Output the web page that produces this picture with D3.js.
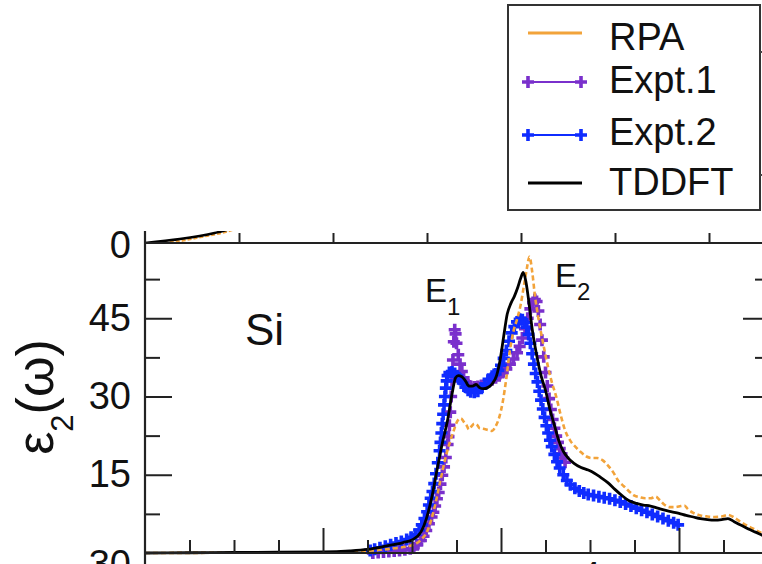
<!DOCTYPE html>
<html>
<head>
<meta charset="utf-8">
<script src="https://cdn.jsdelivr.net/npm/d3@7/dist/d3.min.js"></script>
<style>
  html, body { margin: 0; padding: 0; background: #fff; }
  svg { display: block; font-family: "Liberation Sans", Arial, sans-serif; }
</style>
</head>
<body>
<svg id="chart" width="762" height="564"></svg>
<script>
// ---- data: photon energy (eV) and eps2 values ----
const rpa = [
  [0.0,0],[1.0,0.05],[2.0,0.1],[2.5,0.4],[2.8,0.9],[3.0,1.5],[3.1,2.5],[3.18,4.5],[3.25,8.5],
  [3.32,14.0],[3.38,18.5],[3.43,21.5],[3.47,23.5],[3.51,25.3],[3.55,25.8],[3.58,25.2],[3.61,24.6],
  [3.64,23.7],[3.67,24.3],[3.70,24.8],[3.73,24.6],[3.76,23.9],[3.80,23.8],[3.85,23.6],[3.90,23.4],
  [3.94,24.3],[3.98,26.0],[4.02,29.0],[4.06,33.5],[4.10,38.8],[4.14,42.5],[4.18,44.8],[4.22,47.5],
  [4.26,51.5],[4.29,54.5],[4.32,56.8],[4.35,54.0],[4.38,49.5],[4.42,45.0],[4.47,40.5],[4.52,36.3],
  [4.57,32.8],[4.62,30.0],[4.67,26.5],[4.72,23.5],[4.78,21.5],[4.84,20.3],[4.90,19.3],[4.96,18.5],
  [5.02,18.2],[5.08,18.2],[5.14,17.8],[5.20,16.8],[5.26,15.5],[5.32,13.8],[5.38,12.8],[5.44,11.8],
  [5.50,11.0],[5.56,10.7],[5.62,10.5],[5.68,10.5],[5.74,10.8],[5.78,10.2],[5.84,9.2],[5.90,8.8],
  [5.96,8.8],[6.02,9.0],[6.06,9.1],[6.10,8.4],[6.16,7.7],[6.24,7.2],[6.32,7.0],[6.40,6.9],
  [6.48,7.0],[6.55,7.3],[6.60,7.0],[6.68,6.1],[6.76,5.3],[6.84,4.6],[6.92,3.9],[7.00,3.3]
];

const tddft = [
  [0.0,0],[0.5,0.05],[1.0,0.1],[1.5,0.15],[2.0,0.2],[2.3,0.4],[2.5,0.7],[2.7,1.3],[2.9,2.0],
  [3.0,2.5],[3.1,4.0],[3.16,6.5],[3.22,10.5],[3.28,15.8],[3.34,21.0],[3.40,25.5],[3.45,30.5],
  [3.49,33.6],[3.52,34.0],[3.56,33.8],[3.60,33.0],[3.64,32.0],[3.68,32.0],[3.72,32.3],[3.76,31.7],
  [3.80,31.5],[3.85,31.7],[3.90,32.4],[3.95,34.0],[3.99,37.0],[4.03,41.5],[4.07,45.8],[4.11,47.8],
  [4.15,49.2],[4.19,51.0],[4.22,52.6],[4.25,53.8],[4.28,52.0],[4.31,48.5],[4.35,43.0],[4.40,38.0],
  [4.45,34.0],[4.50,31.2],[4.55,27.5],[4.60,24.5],[4.65,21.5],[4.70,19.5],[4.75,18.3],[4.82,17.2],
  [4.90,16.4],[4.98,15.9],[5.05,15.3],[5.12,14.5],[5.20,13.5],[5.28,12.2],[5.36,11.0],[5.44,10.0],
  [5.52,9.5],[5.60,9.2],[5.68,9.0],[5.76,8.6],[5.84,8.2],[5.92,7.9],[6.00,7.6],[6.08,7.2],
  [6.16,6.9],[6.24,6.6],[6.32,6.4],[6.40,6.3],[6.48,6.4],[6.55,6.6],[6.62,6.0],[6.70,5.3],
  [6.78,4.6],[6.86,4.0],[6.95,3.3],[7.00,3.0]
];

const expt1 = [
  [2.56,0.0],[2.62,0.1],[2.68,0.2],[2.74,0.3],[2.80,0.4],[2.86,0.5],[2.92,0.6],[2.98,0.8],[3.02,1.0],
  [3.06,1.6],[3.10,2.4],[3.13,3.2],[3.16,4.3],[3.19,5.6],[3.22,6.9],[3.24,7.8],[3.26,9.0],[3.28,10.4],
  [3.30,11.6],[3.32,13.2],[3.34,14.9],[3.36,16.5],[3.38,18.3],[3.40,20.8],[3.41,22.3],[3.42,24.5],
  [3.43,27.0],[3.44,30.0],[3.45,33.0],[3.46,37.0],[3.47,40.5],[3.48,42.8],[3.49,42.0],[3.50,40.2],
  [3.52,38.0],[3.54,36.2],[3.56,34.8],[3.58,33.6],[3.60,32.8],[3.63,32.2],[3.66,31.9],[3.70,31.8],
  [3.74,31.9],[3.78,32.1],[3.82,32.4],[3.86,32.8],[3.90,33.2],[3.94,33.6],[3.98,34.0],[4.02,34.6],
  [4.06,35.3],[4.10,36.2],[4.14,37.2],[4.18,38.4],[4.21,39.6],[4.24,41.2],[4.27,43.0],[4.30,45.0],
  [4.33,46.8],[4.36,48.0],[4.38,48.6],[4.40,48.2],[4.42,46.4],[4.44,43.8],[4.46,40.8],[4.48,37.6],
  [4.50,34.6],[4.52,32.0],[4.54,29.6],[4.56,27.5],[4.58,25.6],[4.60,23.9],[4.62,22.4],[4.64,21.2],
  [4.66,20.0],[4.68,19.0],[4.70,18.2],[4.72,17.4]
];

const expt2 = [
  [2.53,0.5],[2.58,0.7],[2.64,1.0],[2.70,1.3],[2.76,1.6],[2.82,1.9],[2.88,2.2],[2.94,2.6],[2.99,3.0],
  [3.04,3.6],[3.08,4.4],[3.11,5.4],[3.14,6.6],[3.17,7.9],[3.19,9.2],[3.21,10.5],[3.23,11.8],[3.25,13.3],
  [3.27,15.2],[3.29,17.3],[3.31,19.6],[3.32,21.2],[3.33,23.0],[3.34,24.8],[3.35,26.6],[3.36,28.4],
  [3.37,30.0],[3.38,31.6],[3.39,33.0],[3.40,34.0],[3.42,34.6],[3.45,34.7],[3.48,34.4],[3.51,33.9],
  [3.54,33.3],[3.57,32.6],[3.60,31.8],[3.63,31.2],[3.66,30.9],[3.70,30.8],[3.74,31.0],[3.78,31.6],
  [3.82,32.4],[3.86,33.3],[3.90,33.9],[3.94,34.3],[3.97,35.0],[4.00,36.0],[4.03,37.3],[4.06,38.8],
  [4.09,40.6],[4.12,42.2],[4.15,43.4],[4.18,44.3],[4.21,44.8],[4.24,44.7],[4.27,44.2],[4.29,43.3],
  [4.31,41.9],[4.33,40.2],[4.35,38.2],[4.37,36.2],[4.39,34.4],[4.41,32.8],[4.43,31.0],[4.45,29.3],
  [4.47,27.6],[4.49,26.0],[4.51,24.4],[4.53,23.0],[4.55,21.6],[4.57,20.4],[4.60,18.9],[4.63,17.5],
  [4.66,16.3],[4.70,15.0],[4.74,13.9],[4.78,13.1],[4.83,12.4],[4.88,11.9],[4.93,11.5],[4.98,11.2],
  [5.04,11.0],[5.10,10.8],[5.16,10.6],[5.22,10.4],[5.28,10.1],[5.34,9.8],[5.40,9.4],[5.46,9.0],
  [5.52,8.6],[5.58,8.2],[5.64,7.8],[5.70,7.4],[5.76,7.0],[5.82,6.6],[5.88,6.2],[5.94,5.8],[5.99,5.4]
];

// tail of the panel above, visible just over the shared border
const upperTddft = [[0,0],[0.37,4],[0.74,10],[0.95,15]];
const upperRpa = [[0.2,0],[0.37,2],[0.59,6],[0.85,11],[1.0,15]];

const yMajorTicks = [45, 30, 15];
const yMinorTicks = [7.5, 22.5, 37.5, 52.5];
const xMajorTicks = [2, 4, 6];
const xMinorTicks = [0.5, 1, 1.5, 2.5, 3, 3.5, 4.5, 5, 5.5, 6.5];
const upperXTicks = [1, 2, 3, 4, 5, 6];

const legendItems = [
  { label: "RPA",     key: "rpa" },
  { label: "Expt.1",  key: "expt1" },
  { label: "Expt.2",  key: "expt2" },
  { label: "TDDFT",   key: "tddft" }
];

const colors = { rpa: "#f2a33a", expt1: "#7a30cc", expt2: "#0f2cff", tddft: "#000000" };

// ---- layout ----
const svg = d3.select("#chart");
const plotL = 145, plotR = 768, plotT = 243, plotB = 553;
const axisColor = "#222";

const x = d3.scaleLinear().domain([0, 7]).range([plotL, plotR]);
const y = d3.scaleLinear().domain([0, 60]).range([plotB, 240]);
const ux = d3.scaleLinear().domain([0, 1]).range([plotL, plotL + 94]);
const uy = d3.scaleLinear().domain([0, 60]).range([plotT, plotT - 60]);

svg.append("clipPath").attr("id", "plotClip")
  .append("rect").attr("x", plotL).attr("y", plotT).attr("width", plotR - plotL).attr("height", 564 - plotT);
svg.append("clipPath").attr("id", "upperClip")
  .append("rect").attr("x", plotL).attr("y", 231).attr("width", 200).attr("height", plotT - 231);

// ---- upper panel remnants ----
const uline = d3.line().x(d => ux(d[0])).y(d => uy(d[1])).curve(d3.curveMonotoneX);
const upperG = svg.append("g").attr("clip-path", "url(#upperClip)");
upperG.append("path").datum(upperRpa).attr("d", uline)
  .attr("fill", "none").attr("stroke", colors.rpa).attr("stroke-width", 2.5).attr("stroke-dasharray", "4,2");
upperG.append("path").datum(upperTddft).attr("d", uline)
  .attr("fill", "none").attr("stroke", colors.tddft).attr("stroke-width", 2.5);

// ---- data ----
const plot = svg.append("g").attr("clip-path", "url(#plotClip)");
const line = d3.line().x(d => x(d[0])).y(d => y(d[1])).curve(d3.curveMonotoneX);
const crossPath = "M-6,0H6M0,-6V6";

function crosses(data, color) {
  plot.append("g").selectAll("path").data(data).join("path")
    .attr("transform", d => `translate(${x(d[0])},${y(d[1])})`)
    .attr("d", crossPath)
    .attr("fill", "none").attr("stroke", color).attr("stroke-width", 3.6);
}
crosses(expt1, colors.expt1);
crosses(expt2, colors.expt2);

plot.append("path").datum(rpa).attr("d", line)
  .attr("fill", "none").attr("stroke", colors.rpa).attr("stroke-width", 2.6)
  .attr("stroke-dasharray", "5,3");
plot.append("path").datum(tddft).attr("d", line)
  .attr("fill", "none").attr("stroke", colors.tddft).attr("stroke-width", 2.8);

// ---- axes ----
function styleAxis(g) {
  g.select(".domain").remove();
  g.selectAll(".tick line").attr("stroke", axisColor).attr("stroke-width", 2);
  g.selectAll(".tick text").attr("fill", "#111").attr("font-size", 38)
    .attr("font-family", "'Liberation Sans', Arial, sans-serif");
}

svg.append("g").attr("transform", `translate(${plotL},0)`)
  .call(d3.axisLeft(y).tickValues(yMajorTicks).tickSize(-27).tickPadding(14).tickFormat(d3.format("d")))
  .call(styleAxis);
svg.append("g").attr("transform", `translate(${plotL},0)`)
  .call(d3.axisLeft(y).tickValues(yMinorTicks).tickSize(-15).tickFormat(""))
  .call(styleAxis);
svg.append("g").attr("transform", `translate(${plotR},0)`)
  .call(d3.axisRight(y).tickValues(yMajorTicks).tickSize(-25).tickFormat(""))
  .call(styleAxis);
svg.append("g").attr("transform", `translate(${plotR},0)`)
  .call(d3.axisRight(y).tickValues(yMinorTicks).tickSize(-13).tickFormat(""))
  .call(styleAxis);
svg.append("g").attr("transform", `translate(0,${plotB})`)
  .call(d3.axisBottom(x).tickValues(xMajorTicks).tickSize(-25).tickFormat(""))
  .call(styleAxis);
svg.append("g").attr("transform", `translate(0,${plotB})`)
  .call(d3.axisBottom(x).tickValues(xMinorTicks).tickSize(-13).tickFormat(""))
  .call(styleAxis);
svg.append("g").attr("transform", `translate(0,${plotT})`)
  .call(d3.axisTop(ux).tickValues(upperXTicks).tickSize(10).tickFormat(""))
  .call(styleAxis);

// frame lines
svg.append("line").attr("x1", plotL).attr("x2", plotL).attr("y1", 231).attr("y2", 564)
  .attr("stroke", axisColor).attr("stroke-width", 2.2);
svg.append("line").attr("x1", plotL).attr("x2", 762).attr("y1", plotT).attr("y2", plotT)
  .attr("stroke", axisColor).attr("stroke-width", 2.2);
svg.append("line").attr("x1", plotL).attr("x2", 762).attr("y1", plotB).attr("y2", plotB)
  .attr("stroke", axisColor).attr("stroke-width", 2.2);

// labels belonging to neighbouring panels
const tickFont = { size: 38, fill: "#111" };
svg.append("text").attr("x", 131).attr("y", plotT + 2).attr("text-anchor", "end")
  .attr("dominant-baseline", "central").attr("font-size", tickFont.size).attr("fill", tickFont.fill).text("0");
svg.append("text").attr("x", 131).attr("y", 564).attr("text-anchor", "end")
  .attr("dominant-baseline", "central").attr("font-size", tickFont.size).attr("fill", tickFont.fill).text("30");
svg.append("text").attr("x", 590).attr("y", 589).attr("text-anchor", "middle")
  .attr("font-size", tickFont.size).attr("fill", tickFont.fill).text("4");

// y axis title: eps_2(omega)
const yTitle = svg.append("text")
  .attr("transform", "translate(53,397) rotate(-90)")
  .attr("text-anchor", "middle").attr("font-size", 52).attr("fill", "#111");
yTitle.append("tspan").text("ε");
yTitle.append("tspan").attr("font-size", 31).attr("dy", 20).text("2");
yTitle.append("tspan").attr("dy", -20).text("(ω)");

// annotations
svg.append("text").attr("x", 245).attr("y", 345).attr("font-size", 44).attr("fill", "#111").text("Si");
const e1 = svg.append("text").attr("x", 425).attr("y", 302).attr("font-size", 33).attr("fill", "#111");
e1.append("tspan").text("E");
e1.append("tspan").attr("font-size", 24).attr("dy", 13).text("1");
const e2 = svg.append("text").attr("x", 555).attr("y", 287).attr("font-size", 33).attr("fill", "#111");
e2.append("tspan").text("E");
e2.append("tspan").attr("font-size", 24).attr("dy", 13).text("2");

// ---- legend ----
const legend = svg.append("g");
legend.append("rect").attr("x", 508).attr("y", 5).attr("width", 252).attr("height", 205)
  .attr("fill", "#fff").attr("stroke", "#333").attr("stroke-width", 2);
const rowLine = [33, 82, 135, 183];
const rowBase = [50, 93, 145, 195];
legendItems.forEach((item, i) => {
  const g = legend.append("g");
  const c = colors[item.key];
  if (item.key.startsWith("expt")) {
    g.append("line").attr("x1", 526).attr("x2", 584).attr("y1", rowLine[i]).attr("y2", rowLine[i])
      .attr("stroke", c).attr("stroke-width", 2);
    [528, 581].forEach(px => g.append("path").attr("d", crossPath)
      .attr("transform", `translate(${px},${rowLine[i]})`)
      .attr("stroke", c).attr("stroke-width", 3.6).attr("fill", "none"));
  } else {
    g.append("line").attr("x1", 528).attr("x2", 582).attr("y1", rowLine[i]).attr("y2", rowLine[i])
      .attr("stroke", c).attr("stroke-width", 3);
  }
  g.append("text").attr("x", 609).attr("y", rowBase[i]).attr("font-size", 38).attr("fill", "#111")
    .text(item.label);
});
// stubs of the upper panel's right-hand ticks
[52, 175].forEach(py => svg.append("line").attr("x1", 760).attr("x2", 763)
  .attr("y1", py).attr("y2", py).attr("stroke", "#444").attr("stroke-width", 2));
</script>
</body>
</html>
